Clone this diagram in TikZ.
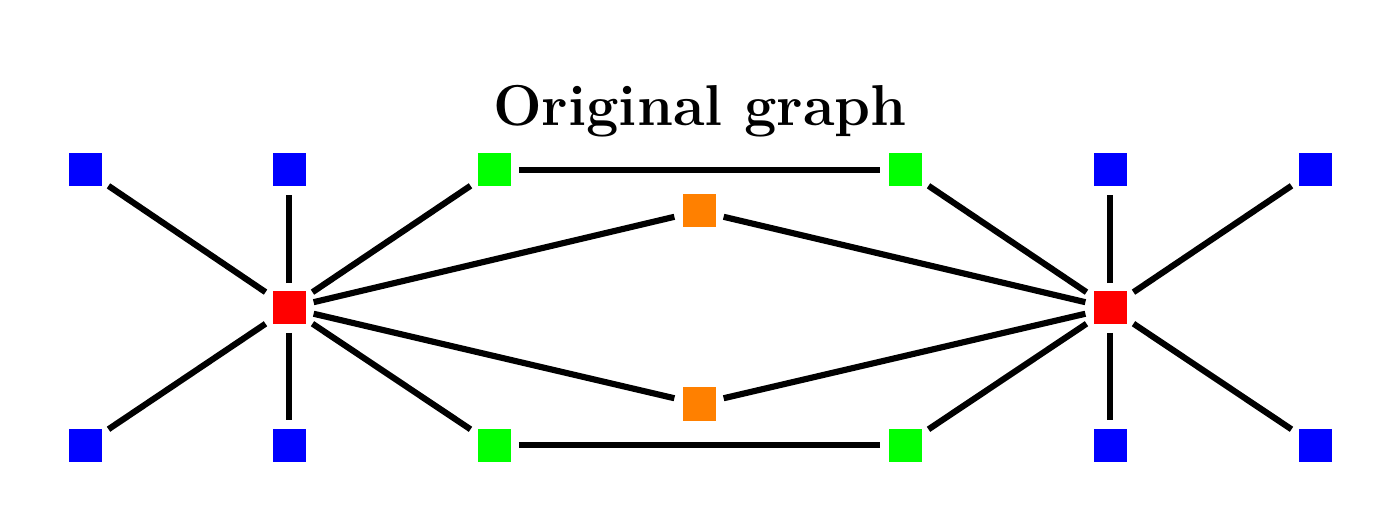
\documentclass[tikz,border=0pt]{standalone}
\usepackage{tikz}
\usetikzlibrary{positioning}

\definecolor{nodeblue}{RGB}{0,0,255}
\definecolor{nodered}{RGB}{255,0,0}
\definecolor{nodegreen}{RGB}{0,255,0}
\definecolor{nodeorange}{RGB}{255,128,0}

\begin{document}
\begin{tikzpicture}[
    vertex/.style={rectangle, minimum size=0.66cm, inner sep=0pt},
    leaf/.style={vertex, fill=nodeblue},
    hub/.style={vertex, fill=nodered},
    bridge/.style={vertex, fill=nodegreen},
    mid/.style={vertex, fill=nodeorange},
    edge/.style={line width=3.5pt, shorten >=0.16cm, shorten <=0.16cm},
    title/.style={font=\fontsize{32.8}{38}\selectfont\bfseries, anchor=base}
]
\useasboundingbox (0,0) rectangle (28,10.62);

% Title
\node[title] (title) at (14,8.1) {Original graph};

% Left hub and leaves
\node[hub]  (r1) at (5.78,4.46) {};
\node[leaf] (b1) at (1.70,7.22) {};
\node[leaf] (b2) at (5.78,7.22) {};
\node[leaf] (b3) at (1.70,1.72) {};
\node[leaf] (b4) at (5.78,1.72) {};

% Right hub and leaves
\node[hub]  (r2) at (22.20,4.46) {};
\node[leaf] (b5) at (22.20,7.22) {};
\node[leaf] (b6) at (26.30,7.22) {};
\node[leaf] (b7) at (22.20,1.72) {};
\node[leaf] (b8) at (26.30,1.72) {};

% Middle
\node[bridge] (g1) at (9.88,7.22) {};
\node[bridge] (g2) at (18.10,7.22) {};
\node[bridge] (g3) at (9.88,1.72) {};
\node[bridge] (g4) at (18.10,1.72) {};
\node[mid] (o1) at (13.98,6.40) {};
\node[mid] (o2) at (13.98,2.54) {};

% Edges
\draw[edge] (r1) -- (b1);
\draw[edge] (r1) -- (b2);
\draw[edge] (r1) -- (b3);
\draw[edge] (r1) -- (b4);
\draw[edge] (r1) -- (g1);
\draw[edge] (r1) -- (g3);
\draw[edge] (r1) -- (o1);
\draw[edge] (r1) -- (o2);

\draw[edge] (r2) -- (b5);
\draw[edge] (r2) -- (b6);
\draw[edge] (r2) -- (b7);
\draw[edge] (r2) -- (b8);
\draw[edge] (r2) -- (g2);
\draw[edge] (r2) -- (g4);
\draw[edge] (r2) -- (o1);
\draw[edge] (r2) -- (o2);

\draw[edge] (g1) -- (g2);
\draw[edge] (g3) -- (g4);

\end{tikzpicture}
\end{document}
